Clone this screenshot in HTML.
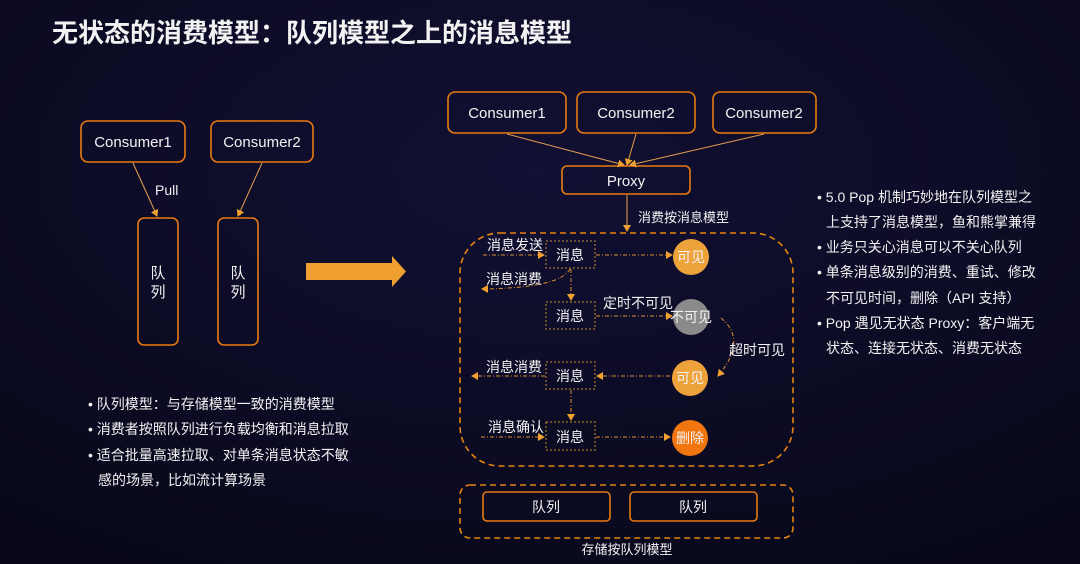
<!DOCTYPE html>
<html><head><meta charset="utf-8"><style>
html,body{margin:0;padding:0;background:#0a0a1b;width:1080px;height:564px;overflow:hidden}
svg{display:block}
text{font-family:"Liberation Sans","Noto Sans CJK SC",sans-serif;fill:#f2f2f2}
</style></head><body>
<svg width="1080" height="564" viewBox="0 0 1080 564">
<defs>
<radialGradient id="bg" cx="0.5" cy="0.3" r="0.8"><stop offset="0" stop-color="#121033"/><stop offset="1" stop-color="#08081a"/></radialGradient>
<marker id="a" markerWidth="8" markerHeight="8" refX="6" refY="4" orient="auto" markerUnits="userSpaceOnUse"><path d="M0,0 L7,4 L0,8z" fill="#f0a030"/></marker>
</defs>
<rect width="1080" height="564" fill="url(#bg)"/>
<text x="52" y="42" font-size="26" font-weight="bold">无状态的消费模型：队列模型之上的消息模型</text>

<g fill="none" stroke="#e87a10" stroke-width="1.6">
<rect x="81" y="121" width="104" height="41" rx="7"/>
<rect x="211" y="121" width="102" height="41" rx="7"/>
<rect x="138" y="218" width="40" height="127" rx="6"/>
<rect x="218" y="218" width="40" height="127" rx="6"/>
<rect x="448" y="92" width="118" height="41" rx="7"/>
<rect x="577" y="92" width="118" height="41" rx="7"/>
<rect x="713" y="92" width="103" height="41" rx="7"/>
<rect x="562" y="166" width="128" height="28" rx="5"/>
<rect x="483" y="492" width="127" height="29" rx="4"/>
<rect x="630" y="492" width="127" height="29" rx="4"/>
</g>
<g font-size="15" text-anchor="middle">
<text x="133" y="147">Consumer1</text><text x="262" y="147">Consumer2</text>
<text x="507" y="118">Consumer1</text><text x="636" y="118">Consumer2</text><text x="764" y="118">Consumer2</text>
<text x="626" y="186">Proxy</text>
<text x="158" y="278">队</text><text x="158" y="297">列</text>
<text x="238" y="278">队</text><text x="238" y="297">列</text>
<text x="546" y="512" font-size="14">队列</text><text x="693" y="512" font-size="14">队列</text>
</g>
<text x="155" y="195" font-size="14">Pull</text>
<g stroke="#e8a050" stroke-width="1" fill="none">
<line x1="133" y1="163" x2="157" y2="216" marker-end="url(#a)"/>
<line x1="262" y1="163" x2="238" y2="216" marker-end="url(#a)"/>
<line x1="507" y1="134" x2="624" y2="165" marker-end="url(#a)"/>
<line x1="636" y1="134" x2="627" y2="165" marker-end="url(#a)"/>
<line x1="764" y1="134" x2="630" y2="165" marker-end="url(#a)"/>
<line x1="627" y1="195" x2="627" y2="231" marker-end="url(#a)"/>
</g>
<path d="M306,263 H392 V256 L406,271.5 L392,287 V280 H306z" fill="#f0a030"/>
<text x="638" y="222" font-size="13">消费按消息模型</text>

<rect x="460" y="233" width="333" height="233" rx="40" fill="none" stroke="#e8840c" stroke-width="1.6" stroke-dasharray="6,4"/>
<rect x="460" y="485" width="333" height="53" rx="10" fill="none" stroke="#e8840c" stroke-width="1.6" stroke-dasharray="6,4"/>
<text x="627" y="554" font-size="13" text-anchor="middle">存储按队列模型</text>

<g fill="none" stroke="#c88a30" stroke-width="1" stroke-dasharray="2,2">
<rect x="546" y="241" width="49" height="27"/><rect x="546" y="302" width="49" height="27"/>
<rect x="546" y="362" width="49" height="27"/><rect x="546" y="422" width="49" height="28"/>
</g>
<g font-size="14" text-anchor="middle"><text x="570" y="260">消息</text><text x="570" y="321">消息</text><text x="570" y="381">消息</text><text x="570" y="442">消息</text></g>

<circle cx="691" cy="257" r="18" fill="#eea23a"/>
<circle cx="691" cy="317" r="18" fill="#8a8a8a"/>
<circle cx="690" cy="378" r="18" fill="#eea23a"/>
<circle cx="690" cy="438" r="18" fill="#f27610"/>
<g font-size="14" text-anchor="middle"><text x="691" y="262">可见</text><text x="691" y="322">不可见</text><text x="690" y="383">可见</text><text x="690" y="443">删除</text></g>

<g stroke="#d89030" stroke-width="1" fill="none" stroke-dasharray="4,2,1,2">
<line x1="483" y1="255" x2="544" y2="255" marker-end="url(#a)"/>
<line x1="596" y1="255" x2="672" y2="255" marker-end="url(#a)"/>
<path d="M570,269 Q560,288 482,289" marker-end="url(#a)"/>
<line x1="571" y1="269" x2="571" y2="300" marker-end="url(#a)"/>
<line x1="596" y1="316" x2="672" y2="316" marker-end="url(#a)"/>
<path d="M721,318 Q748,340 718,376" marker-end="url(#a)"/>
<line x1="670" y1="376" x2="597" y2="376" marker-end="url(#a)"/>
<line x1="545" y1="376" x2="472" y2="376" marker-end="url(#a)"/>
<line x1="571" y1="390" x2="571" y2="420" marker-end="url(#a)"/>
<line x1="481" y1="437" x2="544" y2="437" marker-end="url(#a)"/>
<line x1="596" y1="437" x2="670" y2="437" marker-end="url(#a)"/>
</g>
<g font-size="14">
<text x="487" y="250">消息发送</text><text x="486" y="284">消息消费</text>
<text x="603" y="308">定时不可见</text><text x="729" y="355">超时可见</text>
<text x="486" y="372">消息消费</text><text x="488" y="432">消息确认</text>
</g>

<g font-size="14">
<text x="88" y="409">• 队列模型：与存储模型一致的消费模型</text>
<text x="88" y="434">• 消费者按照队列进行负载均衡和消息拉取</text>
<text x="88" y="460">• 适合批量高速拉取、对单条消息状态不敏</text>
<text x="98" y="485">感的场景，比如流计算场景</text>
</g>
<g font-size="14">
<text x="817" y="202">• 5.0 Pop 机制巧妙地在队列模型之</text>
<text x="826" y="227">上支持了消息模型，鱼和熊掌兼得</text>
<text x="817" y="252">• 业务只关心消息可以不关心队列</text>
<text x="817" y="277">• 单条消息级别的消费、重试、修改</text>
<text x="826" y="303">不可见时间，删除（API 支持）</text>
<text x="817" y="328">• Pop 遇见无状态 Proxy：客户端无</text>
<text x="826" y="353">状态、连接无状态、消费无状态</text>
</g>
</svg>
</body></html>
